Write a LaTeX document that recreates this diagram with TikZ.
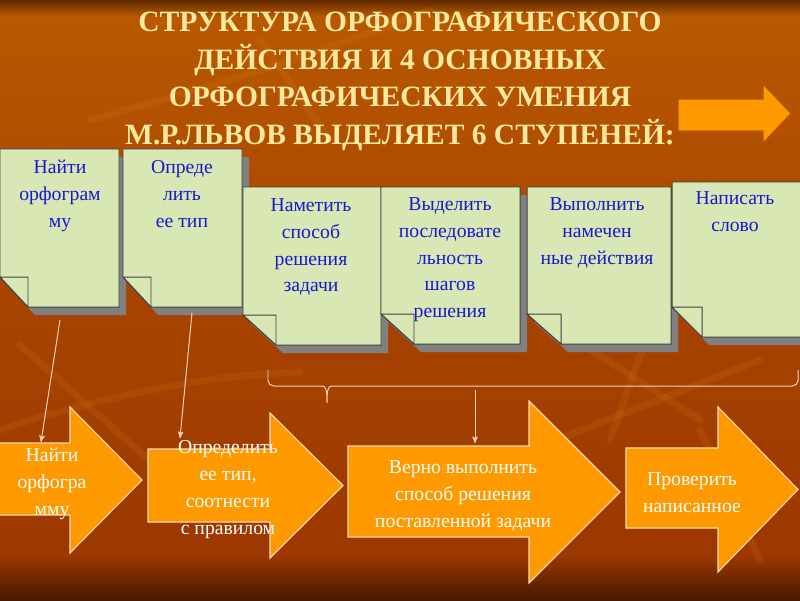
\documentclass[tikz,border=0pt]{standalone}
\usepackage{fontspec}
\setmainfont{Liberation Serif}
\usetikzlibrary{arrows}
\usepackage{xcolor}
\definecolor{noteblue}{RGB}{25,25,205}
\definecolor{notegreen}{RGB}{216,231,180}
\definecolor{arroworange}{RGB}{255,153,0}
\definecolor{titleyellow}{RGB}{255,232,160}
\definecolor{linepink}{RGB}{248,208,190}
\definecolor{bgdark}{RGB}{96,42,0}
\definecolor{bgtop}{RGB}{184,88,0}
\definecolor{bgmid}{RGB}{168,68,0}
\definecolor{bglow}{RGB}{156,56,0}
\definecolor{bgbottom}{RGB}{70,24,0}
\definecolor{streak}{RGB}{230,150,40}

% note sheet with folded corner: left, top, right, bottom, fold, name
\newcommand{\notebox}[6]{%
  \fill[noteshadow] (#1+7,#2+8) -- (#3+7,#2+8) -- (#3+7,#4+8) -- (#1+#5+7,#4+8) -- (#1+7,#4-22) -- cycle;
  \filldraw[notepaper] (#1,#2) -- (#3,#2) -- (#3,#4) -- (#1+#5,#4) -- (#1,#4-30) -- cycle;
  \filldraw[notepaper] (#1,#4-30) -- (#1+#5,#4-30) -- (#1+#5,#4) -- cycle;
  \coordinate (#6) at ({(#1+#3)/2},#4);}

% block arrow: style, left, body top, body bottom, head x, head top, head bottom, tip x
\newcommand{\blockarrow}[8]{%
  \filldraw[#1] (#2,#3) -- (#5,#3) -- (#5,#6) -- (#8,{(#6+#7)/2}) -- (#5,#7) -- (#5,#4) -- (#2,#4) -- cycle;}

\begin{document}
\begin{tikzpicture}[x=0.025cm,y=-0.025cm,>=stealth',semithick]
  \tikzstyle{noteshadow}=[fill=black!50]
  \tikzstyle{notepaper}=[fill=notegreen,draw=black!75,line width=0.7pt]
  \tikzstyle{notetext}=[anchor=north,align=center,inner sep=0pt,text=noteblue,font=\fontsize{14}{19.1}\selectfont]
  \tikzstyle{stagearrow}=[fill=arroworange,draw=orange!30,line width=0.8pt]
  \tikzstyle{nextarrow}=[fill=arroworange,draw=orange!70!black,line width=0.8pt]
  \tikzstyle{arrowtext}=[anchor=north,align=center,inner sep=0pt,text=white,font=\fontsize{14}{19.1}\selectfont]
  \tikzstyle{titletext}=[anchor=north,align=center,inner sep=0pt,text=titleyellow,font=\fontsize{21}{26.6}\selectfont\bfseries]
  \tikzstyle{link}=[draw=linepink,line width=0.7pt]
  \tikzstyle{streakline}=[draw=streak,opacity=0.12,line width=5pt,line cap=round]

  \useasboundingbox (0,0) rectangle (800,600);
  % background
  \fill[top color=bgdark,bottom color=bgtop] (0,0) rectangle (800,16);
  \fill[top color=bgtop,bottom color=bgmid] (0,16) rectangle (800,300);
  \fill[top color=bgmid,bottom color=bglow] (0,300) rectangle (800,556);
  \fill[top color=bglow,bottom color=bgbottom] (0,556) rectangle (800,600);
  \draw[streakline] (20,345) -- (160,470);
  \draw[streakline] (0,430) .. controls (120,390) and (220,375) .. (300,372);
  \draw[streakline] (560,330) -- (700,420);
  \draw[streakline] (660,300) -- (610,440);
  \draw[streakline] (480,470) -- (760,360);
  \draw[streakline] (700,430) -- (760,560);
  \draw[streakline] (90,120) .. controls (200,90) and (300,60) .. (430,10);
  \draw[streakline] (330,140) -- (260,40);

  \node[titletext] (title) at (400,12)
    {СТРУКТУРА ОРФОГРАФИЧЕСКОГО\\ДЕЙСТВИЯ И 4 ОСНОВНЫХ\\ОРФОГРАФИЧЕСКИХ УМЕНИЯ\\М.Р.ЛЬВОВ ВЫДЕЛЯЕТ 6 СТУПЕНЕЙ:};
  \blockarrow{nextarrow}{678}{99}{131}{763}{84}{143}{791}

  % the six steps
  \notebox{0}{149}{119}{307}{28}{b1}
  \node[notetext] (n1) at (60,160) {Найти\\орфограм\\му};
  \notebox{123}{149}{242}{307}{28}{b2}
  \node[notetext] (n2) at (182,160) {Опреде\\лить\\ее тип};
  \notebox{243}{187}{381}{345}{33}{b3}
  \node[notetext] (n3) at (311,198) {Наметить\\способ\\решения\\задачи};
  \notebox{381}{187}{520}{344}{33}{b4}
  \node[notetext] (n4) at (450,197) {Выделить\\последовате\\льность\\шагов\\решения};
  \notebox{527}{187}{671}{344}{34}{b5}
  \node[notetext] (n5) at (597,197) {Выполнить\\намечен\\ные действия};
  \notebox{672}{182}{806}{337}{30}{b6}
  \node[notetext] (n6) at (735,191) {Написать\\слово};

  % four skills
  \blockarrow{stagearrow}{-2}{443}{515}{70}{407}{553}{142}
  \node[arrowtext] (a1) at (52,448) {Найти\\орфогра\\мму};
  \blockarrow{stagearrow}{148}{449}{522}{270}{413}{558}{343}
  \node[arrowtext] (a2) at (228,440) {Определить\\ее тип,\\соотнести\\с правилом};
  \blockarrow{stagearrow}{348}{446}{537}{529}{401}{583}{620}
  \node[arrowtext] (a3) at (463,460) {Верно выполнить\\способ решения\\поставленной задачи};
  \blockarrow{stagearrow}{626}{448}{528}{718}{407}{572}{798}
  \node[arrowtext] (a4) at (692,472) {Проверить\\написанное};

  % links between steps and skills
  \coordinate (s1) at (60,320);
  \coordinate (e1) at (41,442);
  \coordinate (s2) at (192,313);
  \coordinate (e2) at (180,438);
  \coordinate (s3) at (475,390);
  \coordinate (e3) at (475,443);
  \draw[link,->] (s1) -- (e1);
  \draw[link,->] (s2) -- (e2);
  \draw[link,->] (s3) -- (e3);
  \coordinate (bl) at (268,370);
  \coordinate (bt) at (327,403);
  \coordinate (br) at (798,370);
  \draw[link] (bl) [rounded corners=4] -- (268,386) [sharp corners] -- (322,386)
    .. controls (326,386) and (327,390) .. (bt)
    .. controls (327,390) and (328,386) .. (332,386) [rounded corners=4] -- (798,386) -- (br);
\end{tikzpicture}
\end{document}
